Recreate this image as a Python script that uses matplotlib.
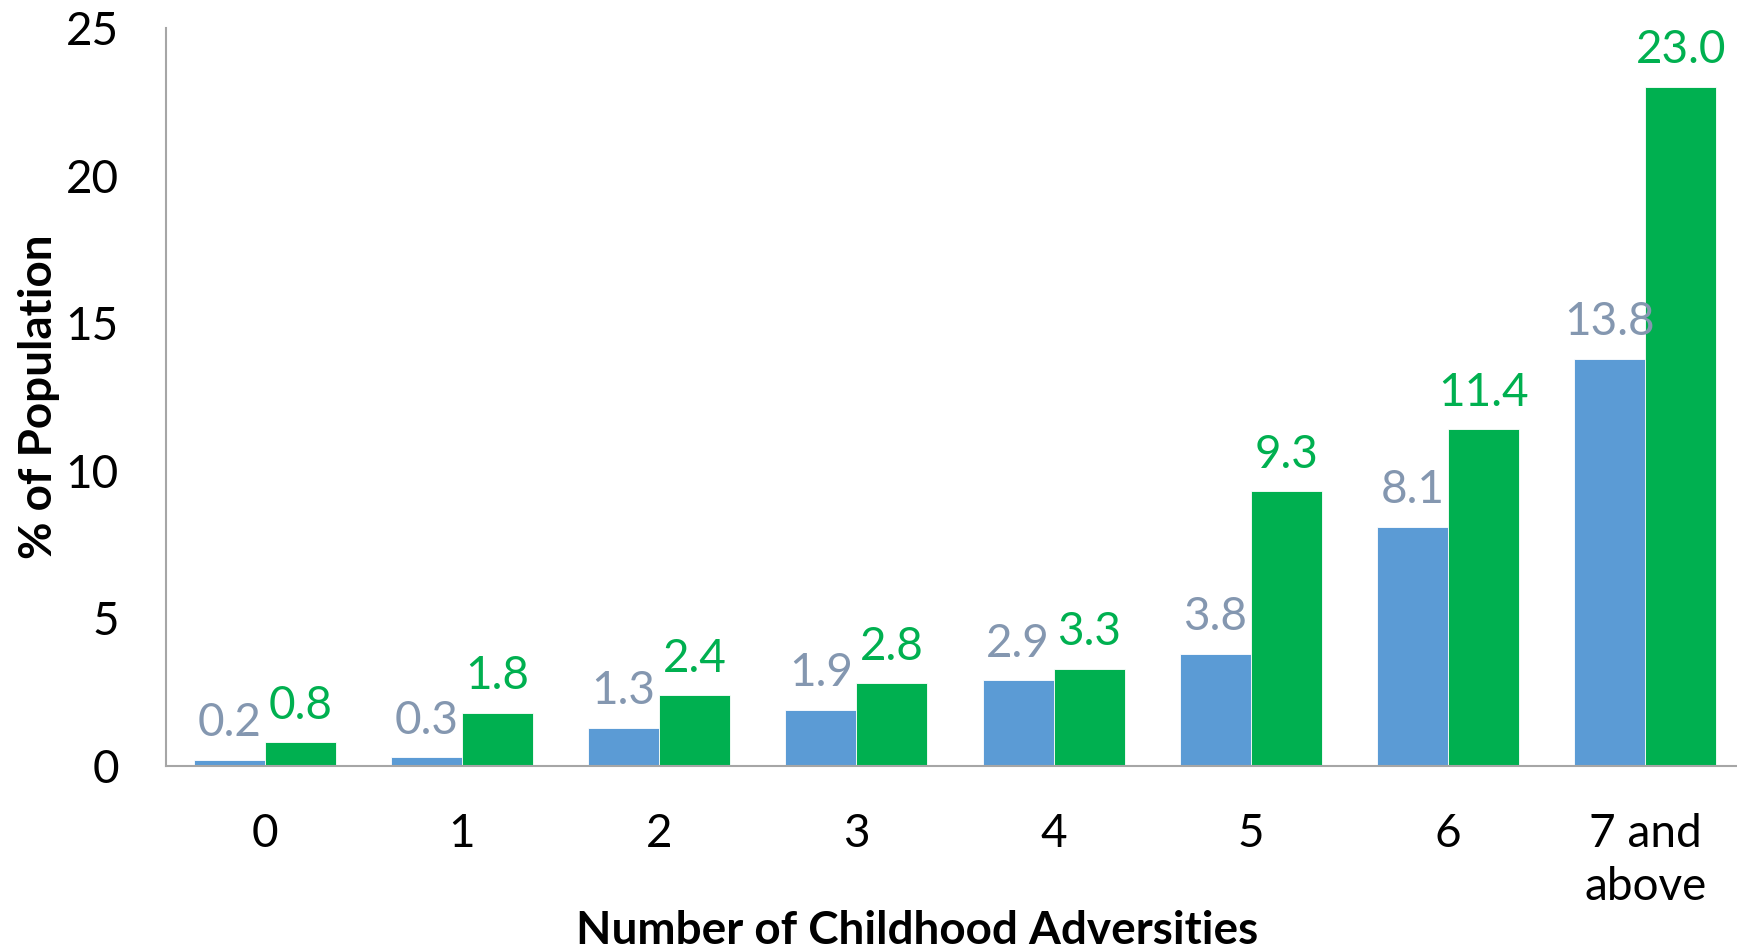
import numpy as np
import matplotlib
matplotlib.use("Agg")
import matplotlib.pyplot as plt

categories = ["0", "1", "2", "3", "4", "5", "6", "7 and\nabove"]
group_a = [0.2, 0.3, 1.3, 1.9, 2.9, 3.8, 8.1, 13.8]
group_b = [0.8, 1.8, 2.4, 2.8, 3.3, 9.3, 11.4, 23.0]

BLUE = "#5B9BD5"
GREEN = "#00B050"
BLUE_TXT = "#8497B0"

plt.rcParams["font.family"] = ["Lato", "DejaVu Sans"]
plt.rcParams["font.size"] = 33

fig = plt.figure(figsize=(17.37, 9.5), dpi=100)
# plot area runs a little past the right edge of the picture, as in the original
ax = fig.add_axes([166 / 1737, 184 / 950, 1578 / 1737, 738 / 950])

x = np.arange(len(categories))
w = 0.36
bars_a = ax.bar(x - w / 2, group_a, w, color=BLUE, edgecolor="white", linewidth=0.6)
bars_b = ax.bar(x + w / 2, group_b, w, color=GREEN, edgecolor="white", linewidth=0.6)

for bars, vals, col in [(bars_a, group_a, BLUE_TXT), (bars_b, group_b, GREEN)]:
    for b, v in zip(bars, vals):
        ax.annotate(f"{v:.1f}", (b.get_x() + b.get_width() / 2, v),
                    xytext=(0, 17), textcoords="offset points",
                    ha="center", va="baseline", color=col, fontsize=33)

ax.set_xlim(-0.5, len(categories) - 0.5)
ax.set_ylim(0, 25)
ax.set_yticks([0, 5, 10, 15, 20, 25])
ax.set_xticks(x)
ax.set_xticklabels(categories, linespacing=1.32)
ax.tick_params(axis="both", length=0, labelsize=33)
ax.tick_params(axis="y", pad=34)
ax.tick_params(axis="x", pad=34)

for s in ["top", "right"]:
    ax.spines[s].set_visible(False)
for s in ["left", "bottom"]:
    ax.spines[s].set_color("#A6A6A6")
    ax.spines[s].set_linewidth(1.5)

ax.set_ylabel("% of Population", fontweight="bold", fontsize=33)
ax.yaxis.set_label_coords(-0.0805, 0.5)
ax.yaxis.label.set_va("center")
ax.set_xlabel("Number of Childhood Adversities", fontweight="bold", fontsize=33)
ax.xaxis.set_label_coords(0.476, -0.223)
ax.xaxis.label.set_va("center")

fig.savefig("out.png", dpi=100)
plt.close()
